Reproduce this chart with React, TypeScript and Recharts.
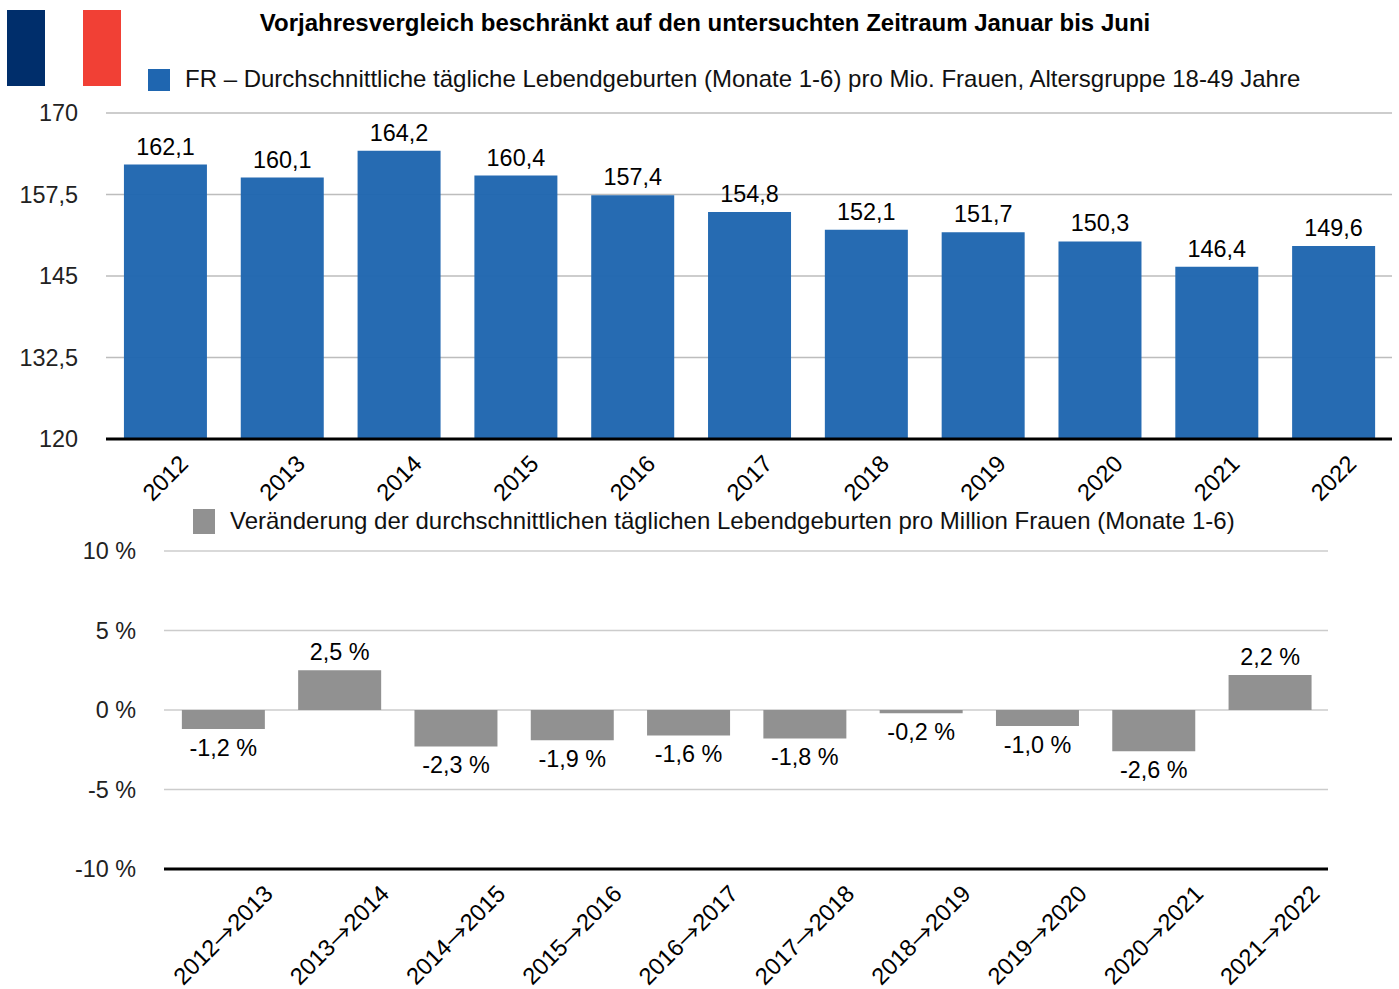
import { Bar, BarChart, CartesianGrid, LabelList, XAxis, YAxis } from 'recharts';

const years = ['2012', '2013', '2014', '2015', '2016', '2017', '2018', '2019', '2020', '2021', '2022'];
const births = [162.1, 160.1, 164.2, 160.4, 157.4, 154.8, 152.1, 151.7, 150.3, 146.4, 149.6];
const birthTicks = [120, 132.5, 145, 157.5, 170];

const periods = [
  '2012→2013', '2013→2014', '2014→2015', '2015→2016', '2016→2017',
  '2017→2018', '2018→2019', '2019→2020', '2020→2021', '2021→2022',
];
const changes = [-1.2, 2.5, -2.3, -1.9, -1.6, -1.8, -0.2, -1.0, -2.6, 2.2];
const changeTicks = [-10, -5, 0, 5, 10];

const birthRows = years.map((year, i) => ({ year, value: births[i] }));
const changeRows = periods.map((period, i) => ({ period, value: changes[i] }));

const FONT = '"Liberation Sans", Arial, sans-serif';
const BLUE = '#1f66b0';
const GREY = '#919191';

const comma = (v: number, digits?: number) =>
  (digits === undefined ? String(v) : v.toFixed(digits)).replace('.', ',');

function RotatedTick({ x, y, payload, dy }: any) {
  const [from, to] = String(payload.value).split('→');
  return (
    <text
      x={x}
      y={y + dy}
      textAnchor="middle"
      dominantBaseline="central"
      fontSize={23.6}
      fontFamily={FONT}
      fill="#000"
      transform={`rotate(-45 ${x} ${y + dy})`}
    >
      {from}
      {/* Liberation's arrow is tiny, the CJK one is closer to the reference */}
      {to ? <tspan fontFamily="Noto Sans CJK SC">→</tspan> : null}
      {to}
    </text>
  );
}

function LegendRow({ left, top, color, boxHeight, boxShift, text }: { left: number; top: number; color: string; boxHeight: number; boxShift: number; text: string }) {
  return (
    <div style={{ position: 'absolute', left, top, display: 'flex', alignItems: 'center', whiteSpace: 'nowrap' }}>
      <span style={{ width: 22, height: boxHeight, background: color, marginRight: 15, position: 'relative', top: boxShift }} />
      <span style={{ fontSize: 24, lineHeight: '26px', color: '#111' }}>{text}</span>
    </div>
  );
}

export default function App() {
  return (
    <div style={{ position: 'absolute', left: 0, top: 0, width: 1399, height: 989, background: '#fff', fontFamily: FONT, overflow: 'hidden' }}>
      <div style={{ position: 'absolute', left: 7, top: 10, width: 38, height: 76, background: '#002e6b' }} />
      <div style={{ position: 'absolute', left: 83, top: 10, width: 38, height: 76, background: '#f14035' }} />
      <div style={{ position: 'absolute', left: 0, width: 1410, top: 9, textAlign: 'center', fontSize: 24, lineHeight: '27px', fontWeight: 700, color: '#000' }}>
        Vorjahresvergleich beschränkt auf den untersuchten Zeitraum Januar bis Juni
      </div>
      <LegendRow left={148} top={66} color={BLUE} boxHeight={22} boxShift={1} text="FR – Durchschnittliche tägliche Lebendgeburten (Monate 1-6) pro Mio. Frauen, Altersgruppe 18-49 Jahre" />
      <LegendRow left={193} top={508} color={GREY} boxHeight={25} boxShift={0} text="Veränderung der durchschnittlichen täglichen Lebendgeburten pro Million Frauen (Monate 1-6)" />

      <div style={{ position: 'absolute', left: 0, top: 0 }}>
        <BarChart width={1399} height={511} data={birthRows} barCategoryGap="14.5%" margin={{ top: 113, right: 7, bottom: 0, left: 0 }}>
          <CartesianGrid stroke="#bdbdbd" strokeWidth={1.5} vertical={false} />
          <XAxis dataKey="year" interval={0} height={72} padding={{ left: 1, right: 0 }} tickSize={0} tickLine={false} axisLine={{ stroke: '#000', strokeWidth: 3 }} tick={<RotatedTick dy={37} />} />
          <YAxis
            domain={[120, 170]}
            ticks={birthTicks}
            width={106}
            tickSize={0}
            tickMargin={28}
            tickLine={false}
            axisLine={false}
            tick={{ fontSize: 23.4, fill: '#222', fontFamily: FONT }}
            tickFormatter={(v) => comma(v)}
          />
          <Bar dataKey="value" fill={BLUE} fillOpacity={0.97} isAnimationActive={false}>
            <LabelList dataKey="value" position="top" offset={10} fontSize={23.4} fill="#000" fontFamily={FONT} formatter={(v: any) => comma(v, 1)} />
          </Bar>
        </BarChart>
      </div>

      <div style={{ position: 'absolute', left: 0, top: 500 }}>
        <BarChart width={1399} height={489} data={changeRows} barCategoryGap="14.5%" margin={{ top: 51, right: 71, bottom: 0, left: 0 }}>
          <CartesianGrid stroke="#cccccc" strokeWidth={1.5} vertical={false} />
          <XAxis dataKey="period" interval={0} height={120} padding={{ left: 1, right: 0 }} tickSize={0} tickLine={false} axisLine={{ stroke: '#000', strokeWidth: 3 }} tick={<RotatedTick dy={64} />} />
          <YAxis
            domain={[-10, 10]}
            ticks={changeTicks}
            width={164}
            tickSize={0}
            tickMargin={28}
            tickLine={false}
            axisLine={false}
            tick={{ fontSize: 23.4, fill: '#222', fontFamily: FONT }}
            tickFormatter={(v) => `${v} %`}
          />
          <Bar dataKey="value" fill={GREY} isAnimationActive={false}>
            <LabelList dataKey="value" position="top" offset={10} fontSize={23.4} fill="#000" fontFamily={FONT} formatter={(v: any) => `${comma(v, 1)} %`} />
          </Bar>
        </BarChart>
      </div>
    </div>
  );
}
